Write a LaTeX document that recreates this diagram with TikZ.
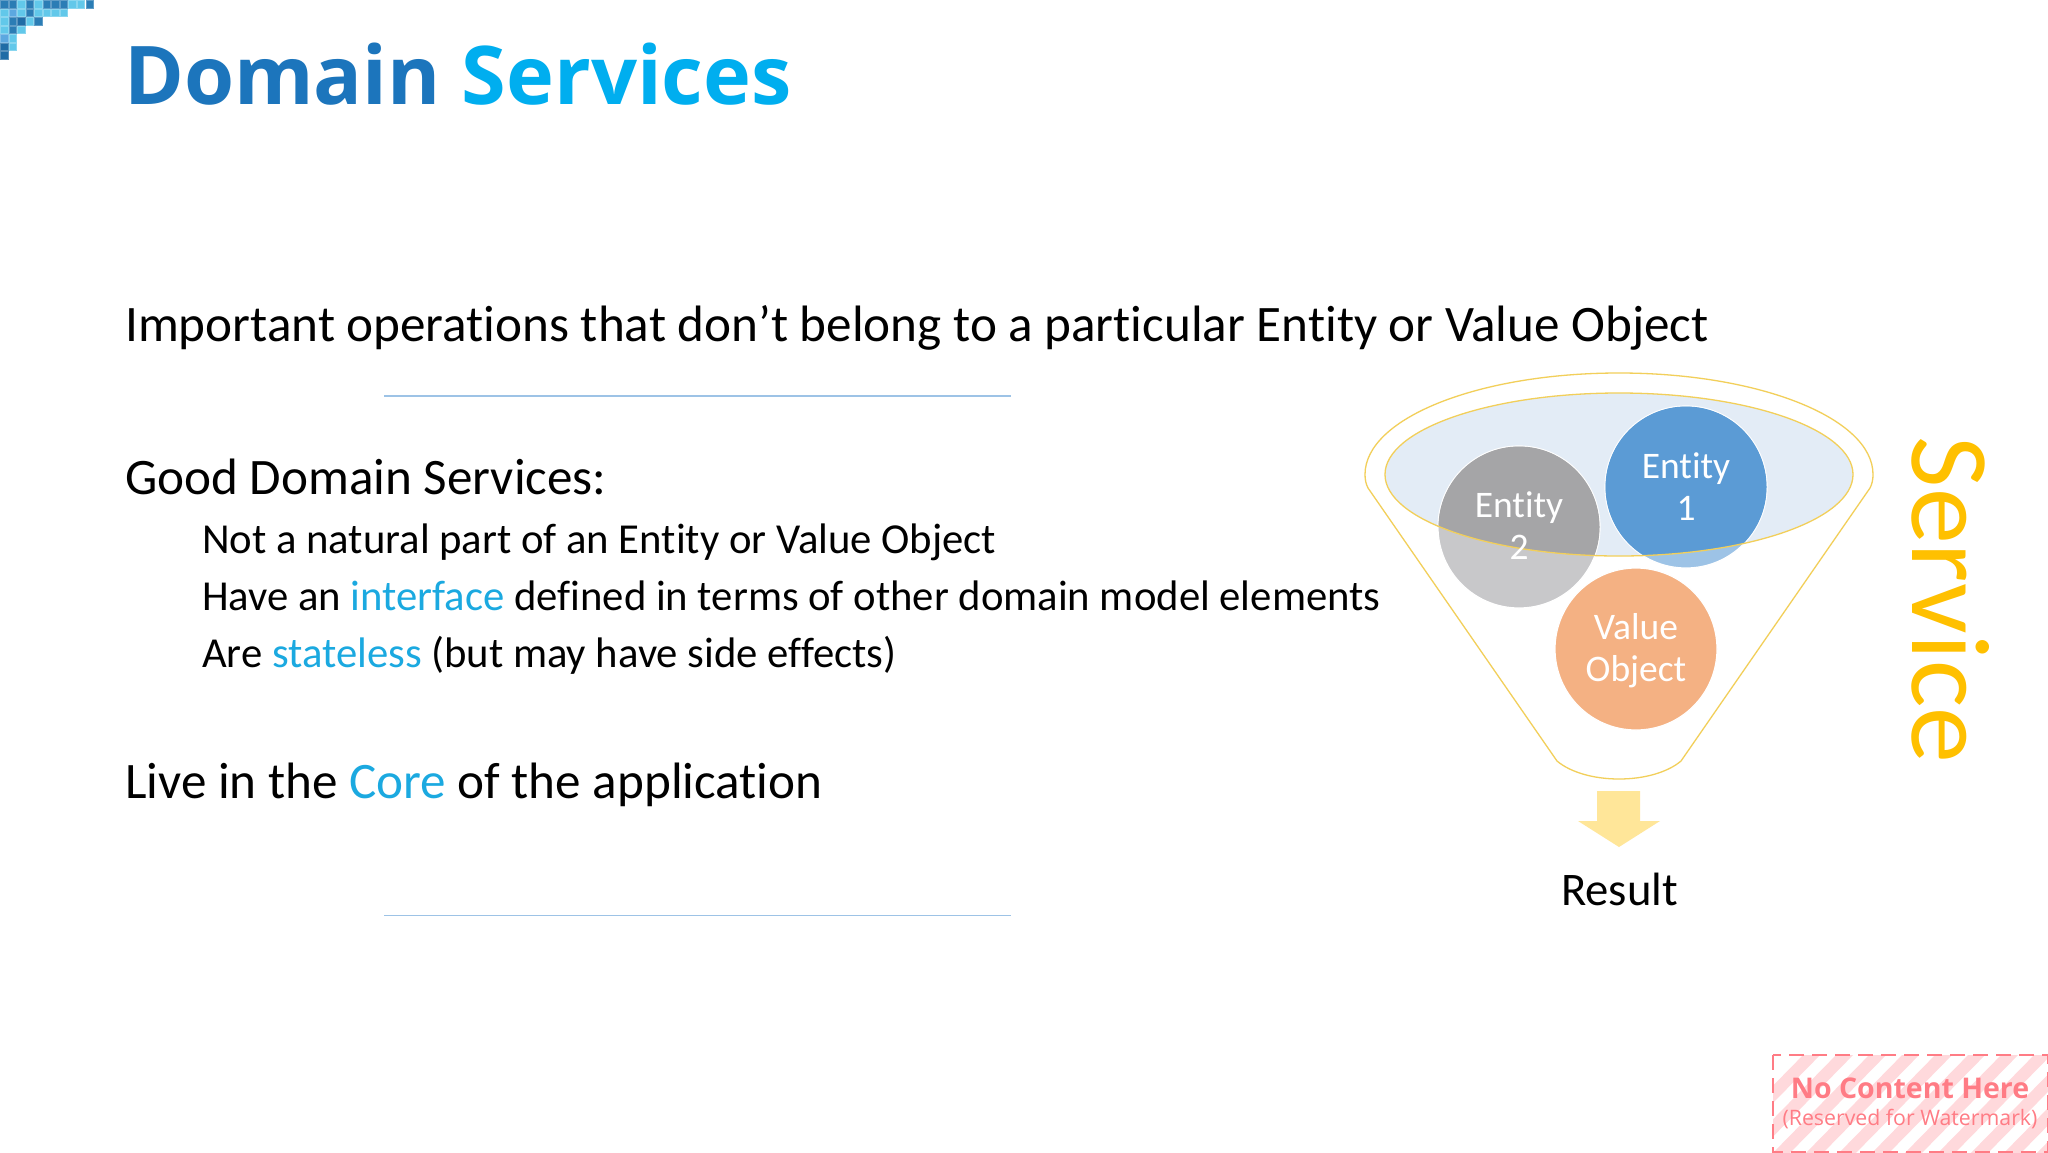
\documentclass[tikz,border=0pt]{standalone}
\usepackage{fontspec}
\setmainfont[Ligatures=NoCommon]{Carlito}
\newfontfamily\titlefont{Open Sans}
\definecolor{hl}{HTML}{1BA9E0}
\definecolor{tblue}{HTML}{1C75BC}
\definecolor{tcyan}{HTML}{00AEEF}
\definecolor{gold}{HTML}{F2CF5A}
\definecolor{wm}{HTML}{FF7C85}
\definecolor{wmlight}{HTML}{FFD9DC}
\definecolor{cD}{HTML}{2B7DB5}
\definecolor{cX}{HTML}{1F6CA6}
\definecolor{cL}{HTML}{62C8EA}
\definecolor{cM}{HTML}{5CA8E0}
\definecolor{ellfill}{HTML}{E3ECF6}
\definecolor{eA}{HTML}{5B9BD5}
\definecolor{eB}{HTML}{9DC3E6}
\definecolor{gA}{HTML}{A5A5A7}
\definecolor{gB}{HTML}{C8C8CA}
\definecolor{voc}{HTML}{F4B183}
\definecolor{arrowc}{HTML}{FFE699}
\definecolor{svcc}{HTML}{FFC000}
\definecolor{rulec}{HTML}{9DC3E6}
\tikzset{
 x=1pt,y=-1pt,
 body/.style={anchor=base west,inner sep=0,font=\fontsize{51.15}{51.15}\selectfont,text=black},
 sub/.style={anchor=base west,inner sep=0,font=\fontsize{42.7}{42.7}\selectfont,text=black},
 rule/.style={draw=rulec,line width=1.2pt},
 funnel/.style={draw=gold,line width=1.3pt},
 circ/.style={circle,minimum size=162pt,inner sep=0,draw=white,line width=1.2pt},
 clabel/.style={align=center,text=white,inner sep=0,font=\fontsize{37.5}{42}\selectfont},
 cell/.style={draw=#1!75!white,fill=#1,line width=1pt}
}
\begin{document}
\begin{tikzpicture}
\useasboundingbox (0,0) rectangle (2048,1152);
\fill[white] (0,0) rectangle (2048,1152);
% corner mosaic
\foreach \col/\row/\c in {
 0/0/cD,1/0/cD,2/0/cL,3/0/cD,4/0/cL,5/0/cD,6/0/cD,7/0/cD,8/0/cL,9/0/cL,10/0/cD,
 0/1/cL,1/1/cM,2/1/cL,3/1/cD,4/1/cL,5/1/cL,6/1/cL,7/1/cL,
 0/2/cL,1/2/cD,2/2/cX,3/2/cL,4/2/cD,
 0/3/cL,1/3/cD,2/3/cL,
 0/4/cM,1/4/cL,
 0/5/cX,1/5/cL,
 0/6/cX}{
  \path[cell=\c] ({\col*8.55+0.5},{\row*8.5+0.5}) rectangle +(7.5,7.5);
}
% title
\node[anchor=base west,inner sep=0,font=\titlefont\bfseries\fontsize{81}{81}\selectfont] (title) at (124,104.5) {\textcolor{tblue}{Domain} \textcolor{tcyan}{Services}};
% text
\node[body] (t1) at (125,341) {Important operations that don’t belong to a particular Entity or Value Object};
\coordinate (r1a) at (384,396); \coordinate (r1b) at (1011,396);
\draw[rule] (r1a) -- (r1b);
\node[body] (t2) at (125,494) {Good Domain Services:};
\node[sub] (t3) at (202,553) {Not a natural part of an Entity or Value Object};
\node[sub] (t4) at (202,610) {Have an \textcolor{hl}{interface} defined in terms of other domain model elements};
\node[sub] (t5) at (202,667) {Are \textcolor{hl}{stateless} (but may have side effects)};
\node[body] (t6) at (125,798) {Live in the \textcolor{hl}{Core} of the application};
\coordinate (r2a) at (384,915.5); \coordinate (r2b) at (1011,915.5);
\draw[rule] (r2a) -- (r2b);
% funnel
\fill[fill=ellfill] (1619,474.5) ellipse (234 and 81.5);
\node[circ,fill=gB] (e2) at (1519,527) {};
\node[circ,fill=eB] (e1) at (1686,487) {};
\begin{scope}
\clip (1619,474.5) ellipse (234 and 81.5);
\fill[gA] (1519,527) circle (80.5);
\fill[eA] (1686,487) circle (80.5);
\end{scope}
\node[circ,fill=voc] (vo) at (1636,649) {};
\draw[funnel] (1619,474.5) ellipse (234 and 81.5);
\draw[funnel] (1365,474.5) .. controls (1365,418) and (1479,373) .. (1619,373) .. controls (1759,373) and (1873,418) .. (1873,474.5)
 .. controls (1873,480) and (1872,484) .. (1870,488) -- (1681,761) .. controls (1668,772) and (1645,779) .. (1619,779)
 .. controls (1593,779) and (1570,772) .. (1557,761) -- (1368,488) .. controls (1366,484) and (1365,480) .. (1365,474.5) -- cycle;
\node[clabel] (l2) at (1519,526) {Entity\\2};
\node[clabel] (l1) at (1686,486.5) {Entity\\1};
\node[clabel] (l3) at (1636,650.5) {Value\\Object};
\fill[arrowc] (1597,791) -- (1640,791) -- (1640,821) -- (1660,821) -- (1619,847) -- (1578,821) -- (1597,821) -- cycle;
\node[anchor=center,font=\fontsize{46.7}{46.7}\selectfont] (res) at (1619.5,889) {Result};
\node[rotate=-90,anchor=base,inner sep=0,font=\fontsize{112}{112}\selectfont,text=svcc] (svc) at (1912,600) {Service};
% watermark
\begin{scope}
\clip (1773,1055) rectangle (2048,1152);
\foreach \k in {0,...,12}{
  \fill[wmlight] ({1700+\k*33},1160) -- ({1717+\k*33},1160) -- ({1825+\k*33},1050) -- ({1808+\k*33},1050) -- cycle;
}
\end{scope}
\draw[wm,line width=1.6pt,dash pattern=on 15pt off 8pt] (1773,1055) rectangle (2048,1152);
\node[font=\titlefont\bfseries\fontsize{28.5}{28.5}\selectfont,text=wm] (wm1) at (1910,1088) {No Content Here};
\node[font=\titlefont\fontsize{21.3}{21.3}\selectfont,text=wm] (wm2) at (1910,1119.5) {(Reserved for Watermark)};
\end{tikzpicture}
\end{document}
